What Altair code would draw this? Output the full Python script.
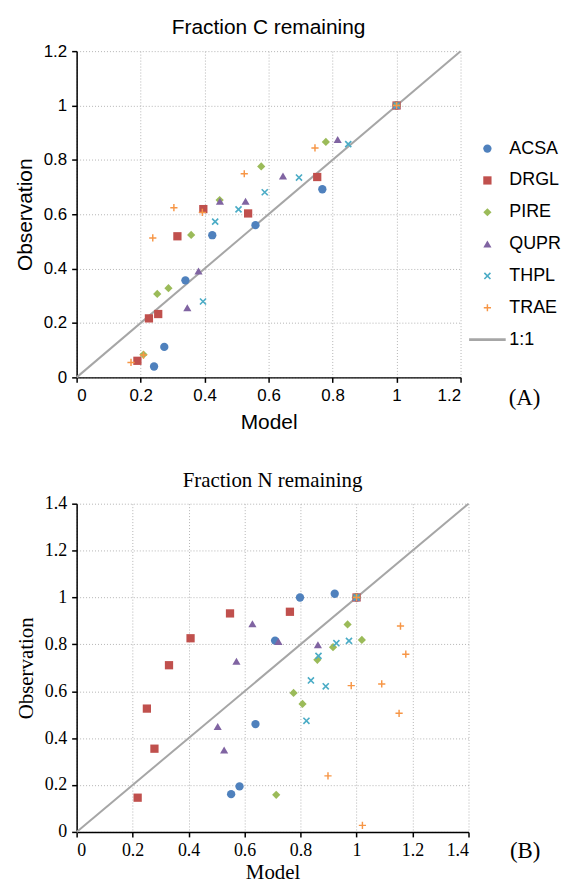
import altair as alt
import pandas as pd

series = ["ACSA", "DRGL", "PIRE", "QUPR", "THPL", "TRAE"]
legend_items = series + ["1:1"]
colors = ["#4F81BD", "#C0504D", "#9BBB59", "#8064A2", "#4BACC6", "#F79646", "#A6A6A6"]

PLUS = "M-0.9,-0.18L-0.18,-0.18L-0.18,-0.9L0.18,-0.9L0.18,-0.18L0.9,-0.18L0.9,0.18L0.18,0.18L0.18,0.9L-0.18,0.9L-0.18,0.18L-0.9,0.18Z"
XMARK = ("M-0.609,-0.891L0.891,0.609L0.609,0.891L-0.891,-0.609Z"
         "M-0.891,0.609L0.609,-0.891L0.891,-0.609L-0.609,0.891Z")
LINESYM = "M-4.6,-0.35L4.6,-0.35L4.6,0.35L-4.6,0.35Z"
shapes = ["circle", "square", "diamond", "triangle-up", XMARK, PLUS, LINESYM]
sizes = [70, 64, 50, 80, 64, 70, 36]

# ---- Panel A: Fraction C remaining (Model, Observation) ----
c_acsa_model = [0.242, 0.274, 0.340, 0.424, 0.559, 0.768, 1.0]
c_acsa_obs = [0.040, 0.112, 0.357, 0.523, 0.560, 0.692, 1.0]
c_drgl_model = [0.190, 0.226, 0.255, 0.315, 0.396, 0.536, 0.752, 1.0]
c_drgl_obs = [0.061, 0.217, 0.233, 0.519, 0.619, 0.603, 0.737, 1.0]
c_pire_model = [0.209, 0.252, 0.287, 0.358, 0.447, 0.577, 0.779, 1.0]
c_pire_obs = [0.084, 0.307, 0.328, 0.524, 0.652, 0.776, 0.866, 1.0]
c_qupr_model = [0.346, 0.381, 0.448, 0.528, 0.645, 0.816, 1.0]
c_qupr_obs = [0.256, 0.391, 0.648, 0.648, 0.741, 0.875, 1.0]
c_thpl_model = [0.395, 0.433, 0.506, 0.588, 0.695, 0.849, 1.0]
c_thpl_obs = [0.279, 0.573, 0.618, 0.681, 0.735, 0.858, 1.0]
c_trae_model = [0.170, 0.209, 0.238, 0.304, 0.393, 0.524, 0.745, 1.0]
c_trae_obs = [0.055, 0.082, 0.513, 0.624, 0.607, 0.749, 0.844, 1.0]

# ---- Panel B: Fraction N remaining ----
n_acsa_model = [0.552, 0.582, 0.639, 0.709, 0.798, 0.922, 1.0]
n_acsa_obs = [0.161, 0.194, 0.460, 0.816, 1.000, 1.016, 1.0]
n_drgl_model = [0.218, 0.251, 0.278, 0.330, 0.407, 0.548, 0.762, 1.0]
n_drgl_obs = [0.146, 0.526, 0.355, 0.711, 0.826, 0.932, 0.939, 1.0]
n_pire_model = [0.713, 0.775, 0.807, 0.860, 0.916, 0.968, 1.019, 1.0]
n_pire_obs = [0.158, 0.593, 0.546, 0.734, 0.788, 0.885, 0.819, 1.0]
n_qupr_model = [0.504, 0.527, 0.571, 0.628, 0.721, 0.862, 1.0]
n_qupr_obs = [0.450, 0.349, 0.728, 0.888, 0.812, 0.798, 1.0]
n_thpl_model = [0.821, 0.837, 0.864, 0.890, 0.928, 0.973, 1.0]
n_thpl_obs = [0.474, 0.646, 0.751, 0.621, 0.805, 0.815, 1.0]
n_trae_model = [0.898, 0.981, 1.021, 1.090, 1.152, 1.157, 1.176, 1.0]
n_trae_obs = [0.239, 0.624, 0.028, 0.631, 0.506, 0.878, 0.758, 1.0]

ticks_a = [0, 0.2, 0.4, 0.6, 0.8, 1, 1.2]
ticks_b = [0, 0.2, 0.4, 0.6, 0.8, 1, 1.2, 1.4]


def frame(pairs):
    rows = []
    for name, xs, ys in pairs:
        for x, y in zip(xs, ys):
            rows.append({"Series": name, "Model": x, "Observation": y})
    return pd.DataFrame(rows)


df_a = frame([
    ("ACSA", c_acsa_model, c_acsa_obs), ("DRGL", c_drgl_model, c_drgl_obs),
    ("PIRE", c_pire_model, c_pire_obs), ("QUPR", c_qupr_model, c_qupr_obs),
    ("THPL", c_thpl_model, c_thpl_obs), ("TRAE", c_trae_model, c_trae_obs)])
df_b = frame([
    ("ACSA", n_acsa_model, n_acsa_obs), ("DRGL", n_drgl_model, n_drgl_obs),
    ("PIRE", n_pire_model, n_pire_obs), ("QUPR", n_qupr_model, n_qupr_obs),
    ("THPL", n_thpl_model, n_thpl_obs), ("TRAE", n_trae_model, n_trae_obs)])


def panel(df, ticks, font, tick_size, title, tag, tag_xy, w, h, leg_xy, xpad):
    top = ticks[-1]
    axis_kw = dict(values=ticks, format="~g", grid=True, gridColor="#B4B4B4",
                   gridDash=[1, 2], gridWidth=1, domainColor="black", domainWidth=1.5,
                   tickColor="black", tickSize=5, tickWidth=1.5,
                   labelFont=font, labelFontSize=tick_size, labelColor="black",
                   titleFont=font, titleFontSize=21, titleFontWeight="normal",
                   titleColor="black", labelPadding=5)
    xs = alt.Scale(domain=[0, top], nice=False)
    ys = alt.Scale(domain=[0, top], nice=False)
    line_df = pd.DataFrame({"Model": [0, top], "Observation": [0, top]})
    line = alt.Chart(line_df).mark_line(color="#A6A6A6", strokeWidth=2).encode(
        x=alt.X("Model:Q", scale=xs, axis=alt.Axis(titlePadding=xpad, **axis_kw)),
        y=alt.Y("Observation:Q", scale=ys, axis=alt.Axis(titlePadding=8, **axis_kw)),
    )
    pts = alt.Chart(df).mark_point(filled=True, opacity=1).encode(
        x=alt.X("Model:Q", scale=xs),
        y=alt.Y("Observation:Q", scale=ys),
        color=alt.Color("Series:N", scale=alt.Scale(domain=legend_items, range=colors),
                        legend=alt.Legend(title=None, orient="none", legendX=leg_xy[0],
                                          legendY=leg_xy[1], labelFont=font,
                                          labelFontSize=18, labelColor="black",
                                          symbolSize=40, symbolStrokeWidth=0,
                                          labelOffset=13, rowPadding=14, padding=0)),
        shape=alt.Shape("Series:N", scale=alt.Scale(domain=legend_items, range=shapes)),
        size=alt.Size("Series:N", scale=alt.Scale(domain=legend_items, range=sizes),
                      legend=None),
        order=alt.Order("idx:Q"),
    ).transform_calculate(idx="indexof(['ACSA','DRGL','PIRE','QUPR','THPL','TRAE'], datum.Series)")
    lab = alt.Chart(pd.DataFrame({"t": [tag]})).mark_text(
        font="Liberation Serif", fontSize=23, color="black", align="center", baseline="middle"
    ).encode(x=alt.datum(tag_xy[0]), y=alt.datum(tag_xy[1]), text="t:N")
    return alt.layer(line, pts, lab).properties(
        width=w, height=h,
        title=alt.TitleParams(title, font=font, fontSize=21, fontWeight="normal",
                              color="black", anchor="middle", frame="group", offset=4),
    )


top = panel(df_a, ticks_a, "Liberation Sans", 17, "Fraction C remaining", "(A)",
            (1.40, -0.075), 386, 328, (404, 89), 8)
bottom = panel(df_b, ticks_b, "Liberation Serif", 18, "Fraction N remaining", "(B)",
               (1.4 * (527 - 76) / 394, -1.4 * 19 / 330), 394, 330, (408, 110), 2)

chart = alt.vconcat(top, bottom, spacing=38).properties(
    padding={"left": 6, "top": 7, "right": 0, "bottom": 0},
    background="white",
).configure_view(strokeWidth=0)

chart.save("out.html", embed_options={"renderer": "svg", "actions": False})
